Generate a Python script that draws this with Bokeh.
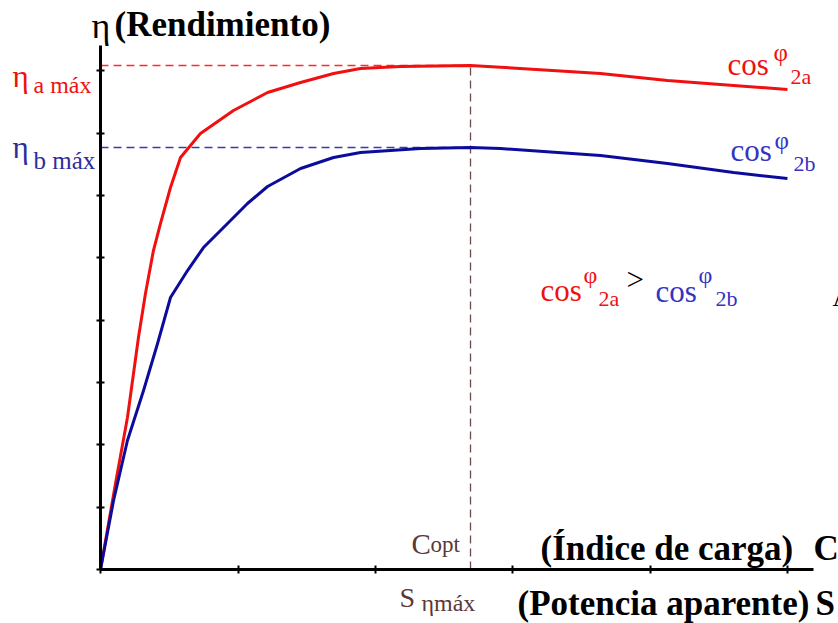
from bokeh.plotting import figure
from bokeh.models import Range1d, FixedTicker, Label, LinearAxis
from bokeh.embed import file_html
from bokeh.resources import INLINE

# ---- data (x: índice de carga C, y: rendimiento η, arbitrary units) ----
load_a = [0, 0.109, 0.196, 0.276, 0.327, 0.385, 0.436, 0.509, 0.582, 0.727, 0.967,
          1.215, 1.455, 1.695, 1.891, 2.182, 2.691, 2.909, 3.636, 4.124, 4.604, 4.996]
eta_a = [0, 1.379, 2.438, 3.721, 4.427, 5.116, 5.549, 6.127, 6.608, 6.993, 7.362,
         7.650, 7.811, 7.955, 8.035, 8.067, 8.083, 8.056, 7.955, 7.843, 7.763, 7.699]

load_b = [0, 0.095, 0.196, 0.313, 0.415, 0.509, 0.633, 0.749, 0.924, 1.069, 1.215,
          1.455, 1.695, 1.891, 2.327, 2.691, 2.909, 3.636, 4.124, 4.604, 4.996]
eta_b = [0, 1.107, 2.069, 2.871, 3.625, 4.362, 4.795, 5.164, 5.549, 5.870, 6.143,
         6.431, 6.608, 6.688, 6.752, 6.768, 6.752, 6.640, 6.512, 6.367, 6.271]

c_opt = 2.691
eta_a_max = 8.083
eta_b_max = 6.768
x_ticks = [0, 1, 2, 3, 4, 5]
y_ticks = [0, 1, 2, 3, 4, 5, 6, 7, 8]
x_axis_end = 5.185
y_axis_end = 8.404

RED = "#f01010"
RED_TXT = "#ee1111"
BLUE = "#0c0c9c"
BLUE_TXT = "#3333c4"
BLUE_TXT2 = "#2d2d9c"
BROWN = "#5a3838"
SERIF = "Liberation Serif"

W, H = 838, 623
p = figure(width=W, height=H, output_backend="svg", toolbar_location=None,
           x_range=Range1d(-0.7273, 5.3673), y_range=Range1d(-0.8661, 9.1259),
           x_axis_location=None, y_axis_location=None,
           min_border=0)
p.outline_line_color = None
p.grid.visible = False
p.background_fill_color = "white"
p.border_fill_color = "white"

xax = LinearAxis(fixed_location=0, bounds=(0, x_axis_end))
yax = LinearAxis(fixed_location=0, bounds=(0, y_axis_end))
for ax, ticks in ((xax, x_ticks), (yax, y_ticks)):
    ax.ticker = FixedTicker(ticks=ticks)
    ax.axis_line_width = 3
    ax.axis_line_color = "black"
    ax.major_tick_in = 4
    ax.major_tick_out = 4
    ax.major_tick_line_width = 2
    ax.major_tick_line_color = "black"
    ax.minor_tick_line_color = None
    ax.major_label_text_font_size = "0px"
p.add_layout(xax, "below")
p.add_layout(yax, "left")

# dashed reference lines
p.line([0, c_opt], [eta_a_max, eta_a_max], line_color="#ff2a2a", line_width=1.3, line_dash="8 5")
p.line([0, c_opt], [eta_b_max, eta_b_max], line_color="#3838b0", line_width=1.3, line_dash="8 5")
p.line([c_opt, c_opt], [0, eta_a_max], line_color="#6e4a4a", line_width=1.3, line_dash="8 5")

# curves
p.line(load_a, eta_a, line_color=RED, line_width=3, line_join="round")
p.line(load_b, eta_b, line_color=BLUE, line_width=3, line_join="round")


def lab(text, px, py, size, color, bold=False):
    """px, py: pixel position (from top-left) of the text's left baseline."""
    shift = 0.33 * size  # renderer places 'alphabetic' below the requested line
    p.add_layout(Label(x=px, y=H - py + shift, x_units="screen", y_units="screen",
                       text=text, text_font=SERIF, text_font_size=f"{size}px",
                       text_color=color, text_align="left", text_baseline="alphabetic",
                       text_font_style="bold" if bold else "normal"))


# title
lab("η", 91, 37, 36, "black")
lab("(Rendimiento)", 114, 36, 35, "black", bold=True)

# left labels
lab("η", 12, 86, 31, RED_TXT)
lab("a máx", 33, 92, 24, RED_TXT)
lab("η", 12, 157, 31, BLUE_TXT2)
lab("b máx", 33, 168, 25, BLUE_TXT2)

# bottom labels
lab("C", 411, 553, 29, BROWN)
lab("opt", 430, 552, 23, BROWN)
lab("S", 399, 606, 28, BROWN)
lab("ηmáx", 421, 610, 24, BROWN)
lab("(Índice de carga)", 540, 560, 35, "black", bold=True)
lab("C", 813, 560, 35, "black", bold=True)
lab("(Potencia aparente)", 517, 615, 35, "black", bold=True)
lab("S", 815, 615, 35, "black", bold=True)

# curve labels
lab("cos", 727, 74, 31, RED_TXT)
lab("φ", 773, 60, 25, RED_TXT)
lab("2a", 790, 83, 22, RED_TXT)
lab("cos", 730, 160, 31, BLUE_TXT)
lab("φ", 774, 148, 25, BLUE_TXT)
lab("2b", 793, 170, 22, BLUE_TXT)

# comparison
lab("cos", 540, 300, 31, RED_TXT)
lab("φ", 583, 282, 24, RED_TXT)
lab("2a", 598, 305, 22, RED_TXT)
lab(">", 626, 289, 31, "black")
lab("cos", 655, 301, 31, BLUE_TXT)
lab("φ", 698, 282, 24, BLUE_TXT)
lab("2b", 715, 305, 22, BLUE_TXT)
lab("A", 832, 306, 26, "black")

open("out.html", "w").write(file_html(p, INLINE))
